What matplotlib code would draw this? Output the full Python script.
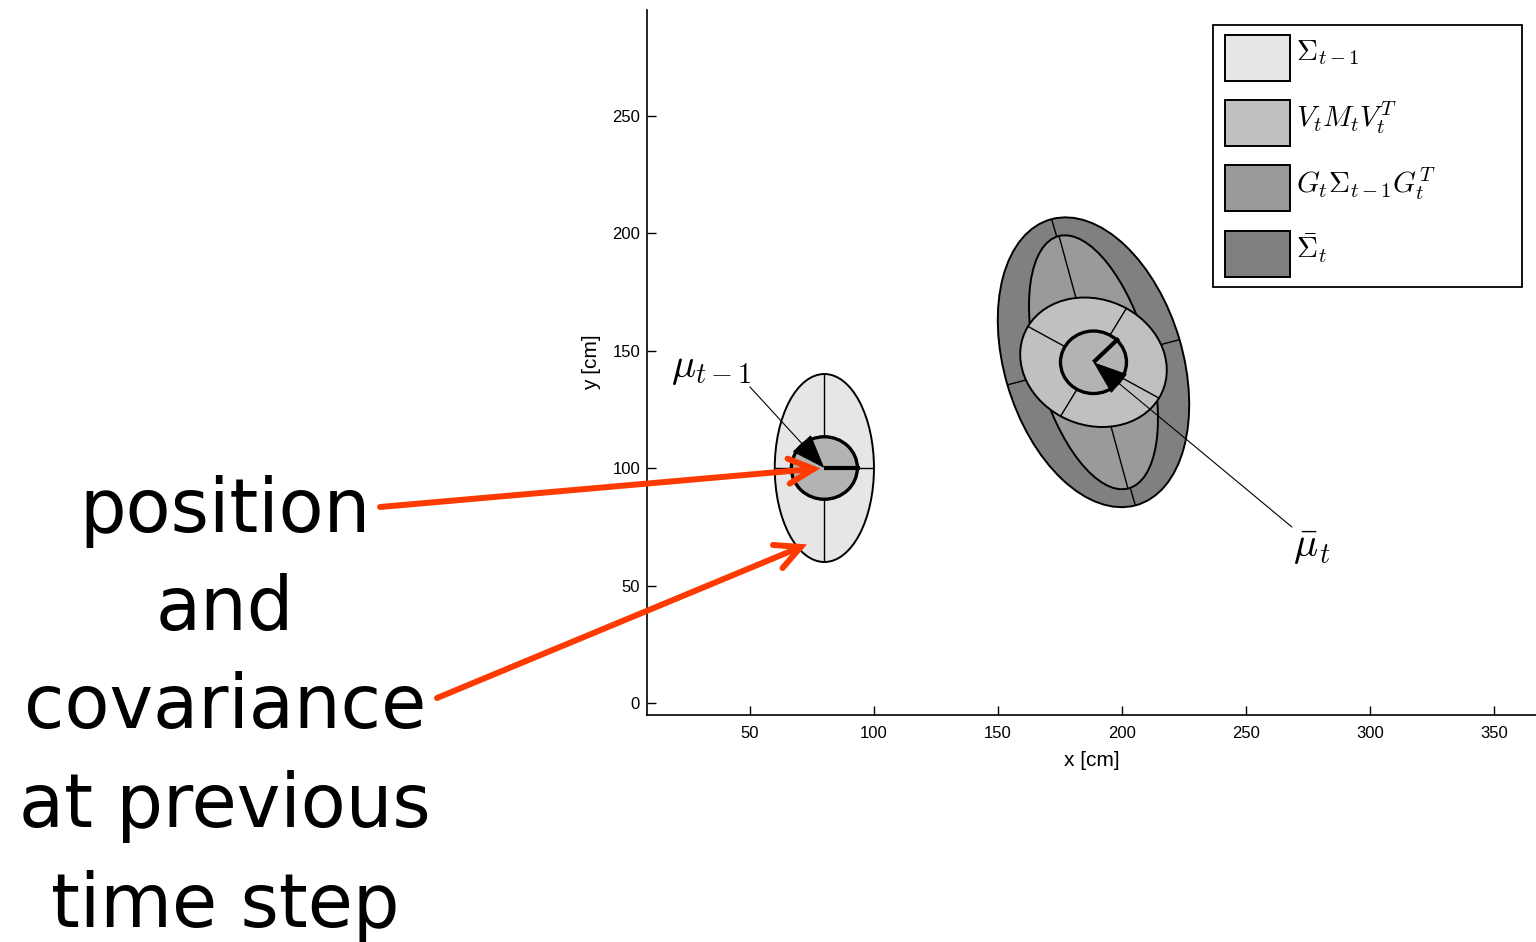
import numpy as np
import matplotlib
matplotlib.use("Agg")
import matplotlib.pyplot as plt
from matplotlib.patches import Ellipse, Circle, Rectangle, ArrowStyle

plt.rcParams["mathtext.fontset"] = "cm"
plt.rcParams["font.family"] = ["Liberation Sans", "DejaVu Sans"]

# ---- robot poses -------------------------------------------------------
mu_prev = (80.0, 100.0)        # mean at t-1
mu_bar = (188.5, 145.0)        # predicted mean at t
robot_radius = 13.3
heading_prev = 0.0             # degrees
heading_bar = 45.0

# ---- covariance ellipses (semi-axes in cm, orientation of major axis) --
cov_labels = [r"$\Sigma_{t-1}$", r"$V_tM_tV_t^T$",
              r"$G_t\Sigma_{t-1}G_t^T$", r"$\bar{\Sigma}_t$"]
cov_colors = ["#e6e6e6", "#c0c0c0", "#9a9a9a", "#808080"]
cov_centers = [mu_prev, mu_bar, mu_bar, mu_bar]
cov_major = [40.0, 30.5, 55.5, 63.2]
cov_minor = [20.0, 26.5, 22.7, 36.0]
cov_angle = [90.0, -30.0, 104.5, 105.5]
draw_order = [3, 2, 1, 0]      # biggest first

# ---- axes ---------------------------------------------------------------
x_ticks = [50, 100, 150, 200, 250, 300, 350]
y_ticks = [0, 50, 100, 150, 200, 250]
x_limits = (8.5, 366.9)
y_limits = (-5.1, 294.9)
x_label = "x [cm]"
y_label = "y [cm]"

# ---- labels ------------------------------------------------------------
mu_prev_label = r"$\mu_{t-1}$"
mu_prev_label_pos = (18.0, 138.7)
mu_prev_leader = (50.0, 134.5)
mu_bar_label = r"$\bar{\mu}_t$"
mu_bar_label_pos = (269.0, 62.1)
mu_bar_leader = (268.5, 74.9)

caption_lines = ["position", "and", "covariance", "at previous", "time step"]
caption_x = 225                                   # figure pixels
caption_baselines = [532, 630, 728, 827, 927]     # figure pixels from top
red_arrow_tails = [(380, 507), (437, 698)]        # figure pixels from top
red_arrow_heads = [mu_prev, (73.0, 67.5)]          # data coordinates
red_arrow_shrink = [3, 0]
red = "#ff3a00"

W, H = 1536, 942
fig = plt.figure(figsize=(W / 100, H / 100), dpi=100)


def fx(px):
    return px / W


def fy(py):
    return 1 - py / H


ax = fig.add_axes([fx(647), fy(715), (W - 647) / W, (715 - 10) / H])
ax.set_xlim(*x_limits)
ax.set_ylim(*y_limits)
for side in ("top", "right"):
    ax.spines[side].set_visible(False)
for side in ("left", "bottom"):
    ax.spines[side].set_linewidth(1.2)
ax.set_xticks(x_ticks)
ax.set_yticks(y_ticks)
ax.tick_params(direction="in", length=6.5, width=1.0, labelsize=12)
ax.tick_params(axis="x", pad=8)
ax.tick_params(axis="y", pad=5)
ax.set_xlabel(x_label, fontsize=15, labelpad=7)
ax.set_ylabel(y_label, fontsize=15, labelpad=8)


def draw_cov(i, z):
    cx, cy = cov_centers[i]
    a, b, th = cov_major[i], cov_minor[i], np.deg2rad(cov_angle[i])
    ax.add_patch(Ellipse((cx, cy), 2 * a, 2 * b, angle=cov_angle[i],
                         facecolor=cov_colors[i], edgecolor="black",
                         linewidth=1.4, zorder=z))
    u = np.array([np.cos(th), np.sin(th)])
    v = np.array([-np.sin(th), np.cos(th)])
    for d, r in ((u, a), (v, b)):
        ax.plot([cx - r * d[0], cx + r * d[0]], [cy - r * d[1], cy + r * d[1]],
                color="black", linewidth=1.0, zorder=z + 0.1,
                solid_capstyle="butt")


def draw_robot(center, heading, z):
    ax.add_patch(Circle(center, robot_radius, facecolor="#b3b3b3",
                        edgecolor="black", linewidth=2.4, zorder=z))
    h = np.deg2rad(heading)
    ax.plot([center[0], center[0] + robot_radius * 1.08 * np.cos(h)],
            [center[1], center[1] + robot_radius * 1.08 * np.sin(h)],
            color="black", linewidth=3.0, zorder=z + 0.1,
            solid_capstyle="butt")


z = 1
for i in draw_order:
    if cov_centers[i] is mu_bar:
        draw_cov(i, z)
        z += 1
draw_robot(mu_bar, heading_bar, z)
z += 1
draw_cov(0, z)
z += 1
draw_robot(mu_prev, heading_prev, z)
z += 1

head = ArrowStyle("-|>", head_length=1.5, head_width=0.55)
for target, start in ((mu_prev, mu_prev_leader), (mu_bar, mu_bar_leader)):
    ax.annotate("", xy=target, xytext=start,
                arrowprops=dict(arrowstyle=head, mutation_scale=15,
                                color="black", linewidth=0.8,
                                shrinkA=0, shrinkB=0), zorder=z)
ax.text(*mu_prev_label_pos, mu_prev_label, fontsize=29, ha="left",
        va="baseline", zorder=z)
ax.text(*mu_bar_label_pos, mu_bar_label, fontsize=29, ha="left",
        va="baseline", zorder=z)

# ---- key for the covariance shades ---------------------------------------
key_box = (1213, 25, 1522, 287)          # left, top, right, bottom (px)
swatch_x = (1225, 1290)
swatch_tops = [35, 100, 165, 231]
swatch_h = 46
key_text_x = 1296
key_baselines = [60, 127, 193, 258]

fig.add_artist(Rectangle((fx(key_box[0]), fy(key_box[3])),
                         (key_box[2] - key_box[0]) / W,
                         (key_box[3] - key_box[1]) / H,
                         transform=fig.transFigure, facecolor="white",
                         edgecolor="black", linewidth=1.3, zorder=20))
for c, lab, top, base in zip(cov_colors, cov_labels, swatch_tops,
                             key_baselines):
    fig.add_artist(Rectangle((fx(swatch_x[0]), fy(top + swatch_h)),
                             (swatch_x[1] - swatch_x[0]) / W, swatch_h / H,
                             transform=fig.transFigure, facecolor=c,
                             edgecolor="black", linewidth=1.4, zorder=21))
    fig.text(fx(key_text_x), fy(base), lab, fontsize=21, ha="left",
             va="baseline", zorder=21)

# ---- caption and pointers -------------------------------------------------
for line, yb in zip(caption_lines, caption_baselines):
    fig.text(fx(caption_x), fy(yb), line, fontsize=53, ha="center",
             va="baseline", family="DejaVu Sans")

for (tx, ty), target, sh in zip(red_arrow_tails, red_arrow_heads,
                                red_arrow_shrink):
    ax.annotate("", xy=target, xycoords="data",
                xytext=(fx(tx), fy(ty)), textcoords="figure fraction",
                arrowprops=dict(arrowstyle="->", mutation_scale=45,
                                color=red, linewidth=4.3, shrinkA=0,
                                shrinkB=sh, joinstyle="miter"),
                annotation_clip=False, zorder=30)

fig.savefig("out.png", dpi=100)
